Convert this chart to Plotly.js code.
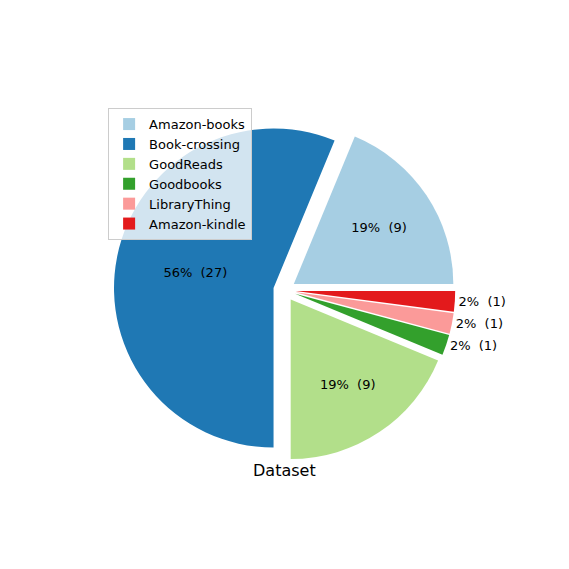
<!DOCTYPE html>
<html><head><script src="https://cdn.plot.ly/plotly-3.0.1.min.js"></script></head>
<body style="margin:0"><div id="c" style="width:569px;height:569px"></div>
<script>
const labels = ["Amazon-books","Book-crossing","GoodReads","Goodbooks","LibraryThing","Amazon-kindle"];
const values = [9,27,9,1,1,1];
const colors = ["#a6cee3","#1f78b4","#b2df8a","#33a02c","#fb9a99","#e31a1c"];
Plotly.newPlot('c',[{
  type:'pie', labels:labels, values:values, sort:false, direction:'counterclockwise', rotation:22.5,
  marker:{colors:colors}, pull:[0.07,0.07,0.07,0.07,0.07,0.07],
  texttemplate:'%{percent:.0%}  (%{value})', textposition:['inside','inside','inside','outside','outside','outside'],
  insidetextorientation:'horizontal',
  textfont:{color:'black',size:13,family:'DejaVu Sans'},
  domain:{x:[0.18,0.82],y:[0.19,0.79]}, hoverinfo:'none'
}],{
  width:569,height:569,margin:{l:0,r:0,t:0,b:0},paper_bgcolor:'white',
  font:{family:'DejaVu Sans',color:'black'},
  showlegend:true,
  legend:{x:0.19,y:0.81,xanchor:'left',yanchor:'top',bgcolor:'rgba(255,255,255,0.8)',bordercolor:'#ccc',borderwidth:1,font:{size:13}},
  annotations:[{text:'Dataset',x:0.5,y:0.193,xref:'paper',yref:'paper',showarrow:false,yanchor:'top',font:{size:16}}]
},{staticPlot:true});
</script></body></html>
